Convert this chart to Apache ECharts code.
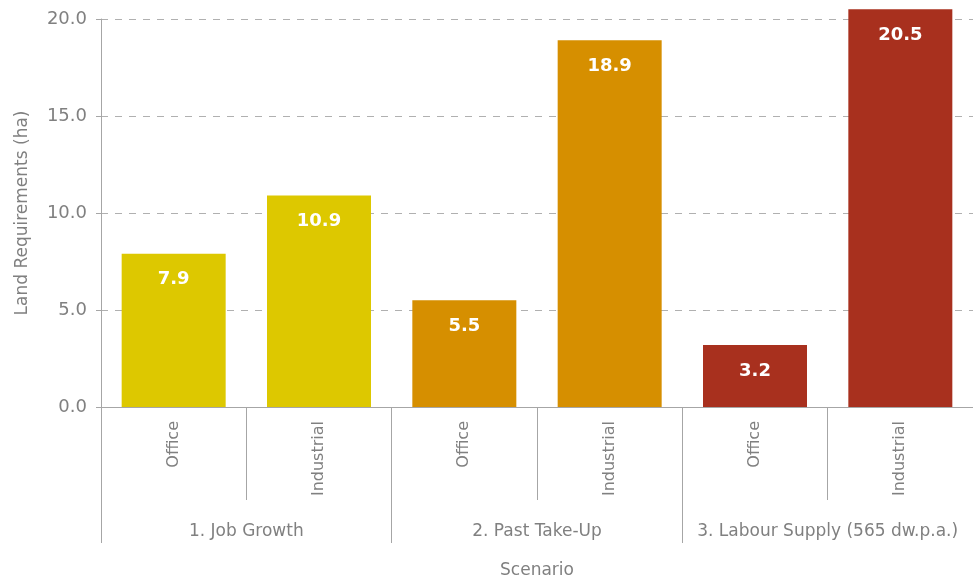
<!DOCTYPE html>
<html>
<head>
<meta charset="utf-8">
<script src="https://cdn.jsdelivr.net/npm/echarts@6/dist/echarts.min.js"></script>
<style>
  html, body { margin: 0; padding: 0; background: #fff; }
  #chart { width: 973px; height: 578px; }
</style>
</head>
<body>
<div id="chart"></div>
<script>
// Land use types within each scenario
const categories = ['Office', 'Industrial', 'Office', 'Industrial', 'Office', 'Industrial'];
// Scenario groups (each spans two land use types)
const scenarios = ['1. Job Growth', '2. Past Take-Up', '3. Labour Supply (565 dw.p.a.)'];
// Land requirements in hectares
const values = [7.9, 10.9, 5.5, 18.9, 3.2, 20.5];
// Colour per scenario
const scenarioColors = ['#DDC800', '#D68F00', '#A8301E'];
// Y axis ticks
const yTicks = [0, 5, 10, 15, 20];

const FONT = 'DejaVu Sans';
const GREY = '#808080';
const LINE = '#a6a6a6';

const chart = echarts.init(document.getElementById('chart'), null, { renderer: 'canvas' });

chart.setOption({
  animation: false,
  textStyle: { fontFamily: FONT },
  grid: { left: 101, right: 0, top: 19, bottom: 171, containLabel: false, outerBoundsMode: 'none' },
  xAxis: [
    {
      type: 'category',
      data: categories,
      axisLine: { lineStyle: { color: LINE, width: 1 } },
      axisTick: { show: true, length: 93, lineStyle: { color: LINE } },
      axisLabel: { interval: 0, rotate: 90, margin: 14, color: GREY, fontSize: 16, fontFamily: FONT }
    },
    {
      // Scenario grouping row beneath the land use labels
      type: 'category',
      data: scenarios,
      position: 'bottom',
      axisLine: { show: false },
      axisTick: { show: true, length: 136, lineStyle: { color: LINE } },
      axisLabel: { interval: 0, hideOverlap: false, margin: 116, color: GREY, fontSize: 17, fontFamily: FONT },
      name: 'Scenario',
      nameLocation: 'middle',
      nameGap: 155,
      nameTextStyle: { color: GREY, fontSize: 17, fontFamily: FONT }
    }
  ],
  yAxis: {
    type: 'value',
    min: yTicks[0],
    max: yTicks[yTicks.length - 1],
    interval: 5,
    name: 'Land Requirements (ha)',
    nameLocation: 'middle',
    nameGap: 70,
    nameTextStyle: { color: GREY, fontSize: 17, fontFamily: FONT },
    axisLine: { show: true, lineStyle: { color: LINE } },
    axisTick: { show: true, length: 5, lineStyle: { color: LINE } },
    axisLabel: {
      color: GREY, fontSize: 18, fontFamily: FONT, margin: 14,
      formatter: v => v.toFixed(1)
    },
    splitLine: { show: true, lineStyle: { color: '#b0b0b0', type: [7, 7], width: 1 } }
  },
  series: [{
    type: 'bar',
    xAxisIndex: 0,
    clip: false,
    barWidth: 104,
    data: values.map((v, i) => ({
      value: v,
      itemStyle: { color: scenarioColors[Math.floor(i / 2)] }
    })),
    label: {
      show: true,
      position: 'insideTop',
      distance: 17,
      color: '#ffffff',
      fontWeight: 'bold',
      fontSize: 18,
      fontFamily: FONT,
      formatter: p => p.value.toFixed(1)
    }
  }]
});
</script>
</body>
</html>
